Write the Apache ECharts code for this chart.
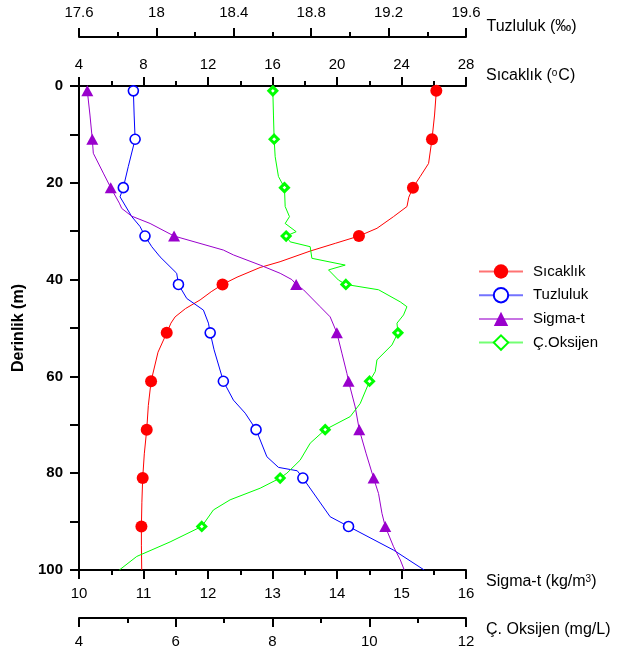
<!DOCTYPE html>
<html>
<head>
<meta charset="utf-8">
<script src="https://cdn.jsdelivr.net/npm/echarts@6/dist/echarts.min.js"></script>
<style>
html,body{margin:0;padding:0;background:#fff;}
#chart{width:617px;height:659px;}
</style>
</head>
<body>
<div id="chart"></div>
<script>
// ---- data ----
const markerDepths = [1, 11, 21, 31, 41, 51, 61, 71, 81, 91];

const sicaklikDepth = [1, 6, 11, 16, 18.7, 21, 23, 24.9, 27, 29.4, 31, 32.5, 34.1, 36.3, 37.5, 39.5, 41, 42.5, 44.2, 46, 47.7, 49, 51, 55, 61, 66, 71, 76, 81, 86, 91, 95, 100];
const sicaklik = [26.16, 26.05, 25.89, 25.68, 25.16, 24.71, 24.45, 24.34, 23.5, 22.48, 21.36, 19.9, 18.34, 16.47, 15.23, 13.8, 12.90, 12.2, 11.51, 10.6, 9.96, 9.7, 9.44, 8.9, 8.47, 8.3, 8.20, 8.05, 7.95, 7.9, 7.87, 7.87, 7.89];

const tuzlulukDepth = [1, 6, 11, 16.6, 21, 22.9, 27, 29, 31, 33.2, 35.3, 38.7, 41, 43.9, 46.3, 49, 51, 54.5, 61, 64.9, 67.6, 71, 76.6, 78.8, 79.5, 81, 89, 91, 95.9, 100];
const tuzluluk = [17.881, 17.885, 17.890, 17.855, 17.829, 17.812, 17.873, 17.915, 17.941, 17.976, 18.019, 18.105, 18.114, 18.157, 18.243, 18.269, 18.278, 18.298, 18.346, 18.398, 18.459, 18.515, 18.571, 18.631, 18.728, 18.757, 18.898, 18.993, 19.226, 19.384];

const sigmaDepth = [1, 6, 11, 13.9, 18, 21, 24.2, 25.3, 26.9, 28.4, 31, 33.9, 34.9, 37, 38.7, 40, 41, 42.1, 45.6, 47.7, 51, 55.2, 59.4, 61, 66.3, 71, 76, 81, 84.2, 88.3, 91, 95.2, 97.9, 100];
const sigma = [10.129, 10.17, 10.206, 10.222, 10.377, 10.492, 10.625, 10.663, 10.818, 11.102, 11.474, 12.239, 12.394, 12.808, 13.119, 13.300, 13.367, 13.480, 13.739, 13.894, 13.998, 14.076, 14.154, 14.179, 14.282, 14.345, 14.453, 14.567, 14.644, 14.697, 14.748, 14.877, 14.981, 15.043];

const oksijenDepth = [1, 6, 11, 14.6, 18.7, 21, 24.9, 27, 28.4, 30.1, 31, 32.2, 33.2, 35.6, 37, 38, 40.1, 41, 42.1, 44.6, 45.6, 47.3, 49, 51, 53.5, 56.6, 59, 61, 65.6, 68.3, 71, 73.8, 77.3, 80, 81, 83.1, 85.5, 87.6, 91, 94.2, 97.2, 100];
const oksijen = [8.007, 8.02, 8.034, 8.055, 8.123, 8.247, 8.262, 8.351, 8.262, 8.489, 8.282, 8.365, 8.779, 8.814, 9.503, 9.158, 9.364, 9.517, 10.192, 10.641, 10.779, 10.709, 10.573, 10.593, 10.469, 10.159, 10.124, 10.006, 9.813, 9.607, 9.089, 8.779, 8.572, 8.297, 8.158, 7.745, 7.124, 6.778, 6.538, 5.883, 5.194, 4.834];

const seriesNames = ['Sıcaklık', 'Tuzluluk', 'Sigma-t', 'Ç.Oksijen'];

// ---- build ----
function build(vals, depths) {
  return vals.map((v, i) => {
    const item = { value: [v, depths[i]] };
    if (markerDepths.indexOf(depths[i]) < 0) { item.symbol = 'none'; item.symbolSize = 0; }
    return item;
  });
}

const FONT = 'Liberation Sans, Arial, sans-serif';
const axisLineStyle = { color: '#000', width: 2 };

function xAx(opts) {
  return Object.assign({
    type: 'value',
    gridIndex: 0,
    splitLine: { show: false },
    axisLine: { show: true, onZero: false, lineStyle: axisLineStyle },
    axisTick: { show: true, length: 9, lineStyle: { color: '#000', width: 2 } },
    minorTick: { show: true, splitNumber: 2, length: 5, lineStyle: { color: '#000', width: 2 } },
    minorSplitLine: { show: false },
    nameLocation: 'end',
    nameGap: 20,
    axisLabel: { color: '#000', fontSize: 15, fontFamily: FONT, margin: 15,
      formatter: v => String(+(+v).toFixed(1)) }
  }, opts);
}

const nameUp = { color: '#000', fontSize: 16, fontFamily: FONT, align: 'left', verticalAlign: 'middle', padding: [0, 0, 20, 0],
  rich: { sup: { fontSize: 10, fontFamily: FONT, color: '#000', verticalAlign: 'top', padding: [0, 1, 0, 0] } } };
const nameDown = { color: '#000', fontSize: 16, fontFamily: FONT, align: 'left', verticalAlign: 'middle', padding: [24, 0, 0, 0],
  rich: { sup: { fontSize: 10, fontFamily: FONT, color: '#000', verticalAlign: 'top' } } };

const option = {
  animation: false,
  backgroundColor: '#fff',
  textStyle: { fontFamily: FONT },
  grid: { left: 79, right: 151, top: 86, height: 484, containLabel: false },
  legend: {
    orient: 'vertical',
    left: 473, top: 259,
    itemWidth: 44, itemHeight: 18, itemGap: 8,
    data: seriesNames,
    textStyle: { color: '#000', fontSize: 15, fontFamily: FONT, padding: [0, 0, 0, 5] },
    lineStyle: { width: 2, opacity: 0.55 }
  },
  xAxis: [
    xAx({ position: 'top', offset: 0, min: 4, max: 28, interval: 4,
      name: 'Sıcaklık ({sup|o}C)', nameTextStyle: nameUp,
      axisLabel: { color: '#000', fontSize: 15, fontFamily: FONT, margin: 14 } }),
    xAx({ position: 'top', offset: 49, min: 17.6, max: 19.6, interval: 0.4,
      name: 'Tuzluluk (‰)', nameTextStyle: nameUp,
      axisLabel: { color: '#000', fontSize: 15, fontFamily: FONT, margin: 17, formatter: v => String(+(+v).toFixed(1)) } }),
    xAx({ position: 'bottom', offset: 0, min: 10, max: 16, interval: 1,
      name: 'Sigma-t (kg/m{sup|3})', nameTextStyle: nameDown,
      axisLabel: { color: '#000', fontSize: 15, fontFamily: FONT, margin: 16 } }),
    xAx({ position: 'bottom', offset: 48, min: 4, max: 12, interval: 2,
      name: 'Ç. Oksijen (mg/L)', nameTextStyle: nameDown,
      axisLabel: { color: '#000', fontSize: 15, fontFamily: FONT, margin: 16 } })
  ],
  yAxis: {
    type: 'value', inverse: true, min: 0, max: 100, interval: 10,
    position: 'left',
    splitLine: { show: false },
    axisLine: { show: true, onZero: false, lineStyle: axisLineStyle },
    axisTick: { show: true, length: 9, lineStyle: { color: '#000', width: 2 } },
    axisLabel: { color: '#000', fontSize: 15, fontWeight: 'bold', fontFamily: FONT, margin: 16,
      formatter: v => (v % 20 === 0 ? String(v) : '') },
    name: 'Derinlik (m)', nameLocation: 'middle', nameRotate: 90, nameGap: 51,
    nameTextStyle: { color: '#000', fontSize: 16, fontWeight: 'bold', fontFamily: FONT }
  },
  series: [
    { name: seriesNames[0], type: 'line', xAxisIndex: 0, yAxisIndex: 0,
      data: build(sicaklik, sicaklikDepth),
      symbol: 'circle', symbolSize: 12,
      itemStyle: { color: '#ff0000' },
      lineStyle: { color: '#ff0000', width: 1 }, z: 3 },
    { name: seriesNames[1], type: 'line', xAxisIndex: 1, yAxisIndex: 0,
      data: build(tuzluluk, tuzlulukDepth),
      symbol: 'circle', symbolSize: 10,
      itemStyle: { color: '#ffffff', borderColor: '#0000ff', borderWidth: 1.6 },
      lineStyle: { color: '#0000ff', width: 1 }, z: 3 },
    { name: seriesNames[2], type: 'line', xAxisIndex: 2, yAxisIndex: 0,
      data: build(sigma, sigmaDepth),
      symbol: 'triangle', symbolSize: [12, 11],
      itemStyle: { color: '#9900cc' },
      lineStyle: { color: '#9900cc', width: 1 }, z: 3 },
    { name: seriesNames[3], type: 'line', xAxisIndex: 3, yAxisIndex: 0,
      data: build(oksijen, oksijenDepth),
      symbol: 'diamond', symbolSize: 8,
      itemStyle: { color: '#ffffff', borderColor: '#00ff00', borderWidth: 3 },
      lineStyle: { color: '#00ff00', width: 1 }, z: 3 }
  ]
};

const chart = echarts.init(document.getElementById('chart'), null, { renderer: 'canvas' });
chart.setOption(option);
</script>
</body>
</html>
